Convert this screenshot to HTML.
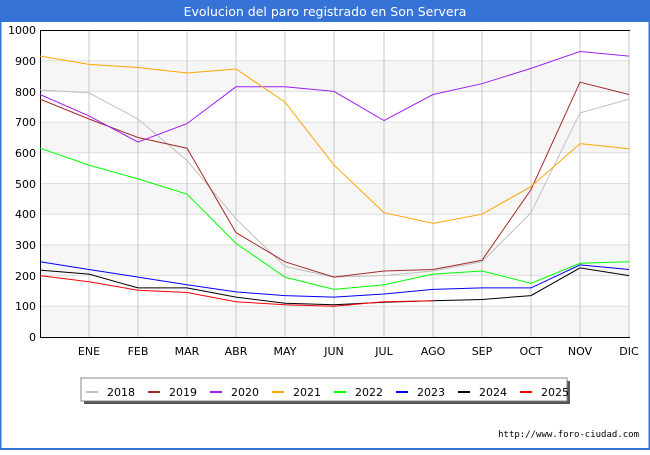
<!DOCTYPE html>
<html><head><meta charset="utf-8"><style>
body{margin:0;width:650px;height:450px;overflow:hidden;background:#fff;font-family:"Liberation Sans","DejaVu Sans",sans-serif}
</style></head><body>
<svg width="650" height="450" xmlns="http://www.w3.org/2000/svg" font-family="DejaVu Sans, Liberation Sans, sans-serif">
<rect x="0" y="0" width="650" height="450" fill="#fff"/>
<rect x="0" y="0" width="650" height="22" fill="#3673d6"/>
<rect x="0" y="0" width="1.5" height="450" fill="#3673d6"/>
<rect x="648.5" y="0" width="1.5" height="450" fill="#3673d6"/>
<rect x="0" y="448" width="650" height="2" fill="#3673d6"/>
<text x="325" y="16" text-anchor="middle" fill="#fff" font-size="12.5">Evolucion del paro registrado en Son Servera</text>
<g fill="#f6f6f6">
<rect x="40" y="60.7" width="590" height="30.7"/><rect x="40" y="122.1" width="590" height="30.7"/><rect x="40" y="183.5" width="590" height="30.7"/><rect x="40" y="244.9" width="590" height="30.7"/><rect x="40" y="306.3" width="590" height="30.7"/>
</g>
<g stroke="#ddd" stroke-width="1">
<line x1="40" y1="60.7" x2="630" y2="60.7"/><line x1="40" y1="91.4" x2="630" y2="91.4"/><line x1="40" y1="122.1" x2="630" y2="122.1"/><line x1="40" y1="152.8" x2="630" y2="152.8"/><line x1="40" y1="183.5" x2="630" y2="183.5"/><line x1="40" y1="214.2" x2="630" y2="214.2"/><line x1="40" y1="244.9" x2="630" y2="244.9"/><line x1="40" y1="275.6" x2="630" y2="275.6"/><line x1="40" y1="306.3" x2="630" y2="306.3"/>
</g>
<g stroke="#c8c8c8" stroke-width="1">
<line x1="89" y1="30" x2="89" y2="337"/><line x1="138" y1="30" x2="138" y2="337"/><line x1="187" y1="30" x2="187" y2="337"/><line x1="236" y1="30" x2="236" y2="337"/><line x1="285" y1="30" x2="285" y2="337"/><line x1="334" y1="30" x2="334" y2="337"/><line x1="384" y1="30" x2="384" y2="337"/><line x1="433" y1="30" x2="433" y2="337"/><line x1="482" y1="30" x2="482" y2="337"/><line x1="531" y1="30" x2="531" y2="337"/><line x1="580" y1="30" x2="580" y2="337"/><line x1="629" y1="30" x2="629" y2="337"/>
</g>
<line x1="40" y1="30.5" x2="630" y2="30.5" stroke="#000"/>
<line x1="40.5" y1="30" x2="40.5" y2="337" stroke="#000"/>
<line x1="40" y1="337.5" x2="630" y2="337.5" stroke="#000"/>
<g font-size="11" text-anchor="end" fill="#000">
<text x="36" y="34">1000</text><text x="36" y="65">900</text><text x="36" y="96">800</text><text x="36" y="126">700</text><text x="36" y="157">600</text><text x="36" y="188">500</text><text x="36" y="218">400</text><text x="36" y="249">300</text><text x="36" y="280">200</text><text x="36" y="310">100</text><text x="36" y="341">0</text>
</g>
<g font-size="11" text-anchor="middle" fill="#000">
<text x="89" y="355">ENE</text><text x="138" y="355">FEB</text><text x="187" y="355">MAR</text><text x="236" y="355">ABR</text><text x="285" y="355">MAY</text><text x="334" y="355">JUN</text><text x="384" y="355">JUL</text><text x="433" y="355">AGO</text><text x="482" y="355">SEP</text><text x="531" y="355">OCT</text><text x="580" y="355">NOV</text><text x="629" y="355">DIC</text>
</g>
<g fill="none" stroke-width="1">
<polyline stroke="#c0c0c0" points="40,89.9 89,92.9 138,119 187,160.5 236,218.8 285,266.4 334,277.1 384,275.6 433,271 482,261.8 531,212.7 580,112.9 629,99.1"/>
<polyline stroke="#a52a2a" points="40,99.1 89,119 138,137.5 187,148.2 236,232.6 285,261.8 334,277.1 384,271 433,269.5 482,260.3 531,189.6 580,82.2 629,94.5"/>
<polyline stroke="#a020f0" points="40,94.5 89,115.9 138,142.1 187,123.6 236,86.8 285,86.8 334,91.4 384,120.6 433,94.5 482,83.7 531,68.4 580,51.5 629,56.1"/>
<polyline stroke="#ffa500" points="40,56.1 89,64.4 138,67.5 187,73 236,69 285,102.1 334,165.1 384,212.7 433,223.4 482,214.2 531,186.6 580,143.6 629,148.8"/>
<polyline stroke="#00ff00" points="40,148.2 89,165.1 138,178.9 187,194.2 236,243.4 285,277.1 334,289.4 384,284.8 433,274.1 482,271 531,283.3 580,263.3 629,261.8"/>
<polyline stroke="#0000ff" points="40,261.8 89,269.5 138,277.1 187,284.8 236,291.9 285,295.6 334,297.1 384,294 433,289.4 482,287.9 531,287.9 580,264.9 629,269.5"/>
<polyline stroke="#000000" points="40,270.1 89,274.1 138,287.9 187,287.9 236,297.1 285,303.2 334,304.8 384,302.3 433,300.8 482,299.5 531,295.6 580,267.9 629,275.6"/>
<polyline stroke="#ff0000" points="40,275.6 89,281.7 138,290.3 187,292.5 236,301.7 285,304.8 334,306.3 384,301.7 433,300.8"/>
</g>
<rect x="84" y="381" width="486" height="23" fill="#555"/>
<rect x="81" y="378" width="486" height="23" fill="#fff" stroke="#888" stroke-width="1"/>
<g stroke-width="2">
<line x1="86" y1="392" x2="98" y2="392" stroke="#c0c0c0"/><line x1="148" y1="392" x2="160" y2="392" stroke="#a52a2a"/><line x1="210" y1="392" x2="222" y2="392" stroke="#a020f0"/><line x1="272" y1="392" x2="284" y2="392" stroke="#ffa500"/><line x1="334" y1="392" x2="346" y2="392" stroke="#00ff00"/><line x1="396" y1="392" x2="408" y2="392" stroke="#0000ff"/><line x1="458" y1="392" x2="470" y2="392" stroke="#000"/><line x1="520" y1="392" x2="532" y2="392" stroke="#ff0000"/>
</g>
<g font-size="11" fill="#000">
<text x="107" y="396">2018</text><text x="169" y="396">2019</text><text x="231" y="396">2020</text><text x="293" y="396">2021</text><text x="355" y="396">2022</text><text x="417" y="396">2023</text><text x="479" y="396">2024</text><text x="541" y="396">2025</text>
</g>
<text x="639" y="437" text-anchor="end" font-size="9" fill="#000" font-family="DejaVu Sans Mono, Liberation Mono, monospace">http://www.foro-ciudad.com</text>
</svg>
</body></html>
